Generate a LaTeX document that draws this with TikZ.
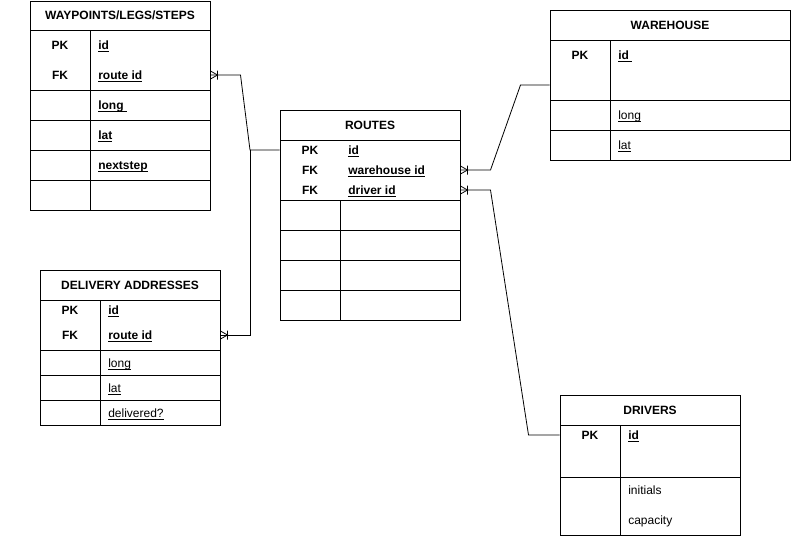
\documentclass[tikz,border=0pt]{standalone}
\usepackage{fontspec}
\setmainfont{Liberation Sans}
\usetikzlibrary{positioning,fit}

\newcommand{\uln}[1]{\underline{\smash{#1}}}
\newcommand{\erfont}{\fontsize{9pt}{11pt}\selectfont}

\tikzset{
    table/.style={draw=black, line width=0.75pt, inner sep=0pt},
    sep/.style={draw=black, line width=0.75pt},
    title/.style={font=\erfont\bfseries, inner sep=0pt},
    key/.style={font=\erfont\bfseries, inner sep=0pt, text height=1.5ex, text depth=.25ex},
    field/.style={font=\erfont, anchor=west, inner sep=0pt, text height=1.5ex, text depth=.25ex},
    keyfield/.style={field, font=\erfont\bfseries},
    link/.style={draw=black, line width=0.6pt},
    crow/.pic={\draw[link] (0,-4) -- (7,0) -- (0,4) (7,-4.5) -- (7,4.5);}
}

\begin{document}
\begin{tikzpicture}
        [x=0.75pt, y=-0.75pt]

        \useasboundingbox (0,0) rectangle (791,536);

        % WAYPOINTS/LEGS/STEPS
        \node[table, fit={(30,1) (210,210)}] (wpbox) {};
        \draw[sep] (30,30) -- (210,30) (30,90) -- (210,90) (30,120) -- (210,120)
                   (30,150) -- (210,150) (30,180) -- (210,180) (90,30) -- (90,210);
        \node[title] (wp) at (120,15) {WAYPOINTS/LEGS/STEPS};
        \node[key] (wp-pk) at (60,45) {PK};
        \node[key] (wp-fk) at (60,75) {FK};
        \node[keyfield] (wp-id) at (98,45) {\uln{id}};
        \node[keyfield] (wp-route) at (98,75) {\uln{route id}};
        \node[keyfield] (wp-long) at (98,105) {\uln{long~}};
        \node[keyfield] (wp-lat) at (98,135) {\uln{lat}};
        \node[keyfield] (wp-next) at (98,165) {\uln{nextstep}};

        % ROUTES
        \node[table, fit={(280,110) (460,320)}] (rtbox) {};
        \draw[sep] (280,140) -- (460,140) (280,200) -- (460,200) (280,230) -- (460,230)
                   (280,260) -- (460,260) (280,290) -- (460,290) (340,200) -- (340,320);
        \node[title] (rt) at (370,125) {ROUTES};
        \node[key] (rt-pk) at (310,150) {PK};
        \node[key] (rt-fk1) at (310,170) {FK};
        \node[key] (rt-fk2) at (310,190) {FK};
        \node[keyfield] (rt-id) at (348,150) {\uln{id}};
        \node[keyfield] (rt-wh) at (348,170) {\uln{warehouse id}};
        \node[keyfield] (rt-dr) at (348,190) {\uln{driver id}};

        % WAREHOUSE
        \node[table, fit={(550,10) (790,160)}] (whbox) {};
        \draw[sep] (550,40) -- (790,40) (550,100) -- (790,100) (550,130) -- (790,130)
                   (610,40) -- (610,160);
        \node[title] (wh) at (670,25) {WAREHOUSE};
        \node[key] (wh-pk) at (580,55) {PK};
        \node[keyfield] (wh-id) at (618,55) {\uln{id~}};
        \node[field] (wh-long) at (618,115) {\uln{long}};
        \node[field] (wh-lat) at (618,145) {\uln{lat}};

        % DELIVERY ADDRESSES
        \node[table, fit={(40,270) (220,425)}] (dabox) {};
        \draw[sep] (40,300) -- (220,300) (40,350) -- (220,350) (40,375) -- (220,375)
                   (40,400) -- (220,400) (100,300) -- (100,425);
        \node[title] (da) at (130,285) {DELIVERY ADDRESSES};
        \node[key] (da-pk) at (70,310) {PK};
        \node[key] (da-fk) at (70,335) {FK};
        \node[keyfield] (da-id) at (108,310) {\uln{id}};
        \node[keyfield] (da-route) at (108,335) {\uln{route id}};
        \node[field] (da-long) at (108,363) {\uln{long}};
        \node[field] (da-lat) at (108,388) {\uln{lat}};
        \node[field] (da-del) at (108,413) {\uln{delivered?}};

        % DRIVERS
        \node[table, fit={(560,395) (740,535)}] (drbox) {};
        \draw[sep] (560,425) -- (740,425) (560,477) -- (740,477) (620,425) -- (620,535);
        \node[title] (dr) at (650,410) {DRIVERS};
        \node[key] (dr-pk) at (590,435) {PK};
        \node[keyfield] (dr-id) at (628,435) {\uln{id}};
        \node[field] (dr-init) at (628,490) {initials};
        \node[field] (dr-cap) at (628,520) {capacity};

        % Lines
        \coordinate (hub) at (250,150);
        \draw[link] (wpbox.east |- wp-fk) -- ++(30,0) -- (hub) -- (rtbox.west |- rt-pk);
        \draw[link] (dabox.east |- da-fk) -| (hub);
        \draw[link] (rtbox.east |- rt-fk1) -- ++(30,0) -- ++(30,-85) -- (whbox.west);
        \draw[link] (rtbox.east |- rt-fk2) -- ++(30,0) -- ++(38,245) -- (drbox.west |- dr-pk);

        % many ends
        \pic at (wpbox.east |- wp-fk) {crow};
        \pic at (dabox.east |- da-fk) {crow};
        \pic at (rtbox.east |- rt-fk1) {crow};
        \pic at (rtbox.east |- rt-fk2) {crow};

    \end{tikzpicture}
\end{document}
